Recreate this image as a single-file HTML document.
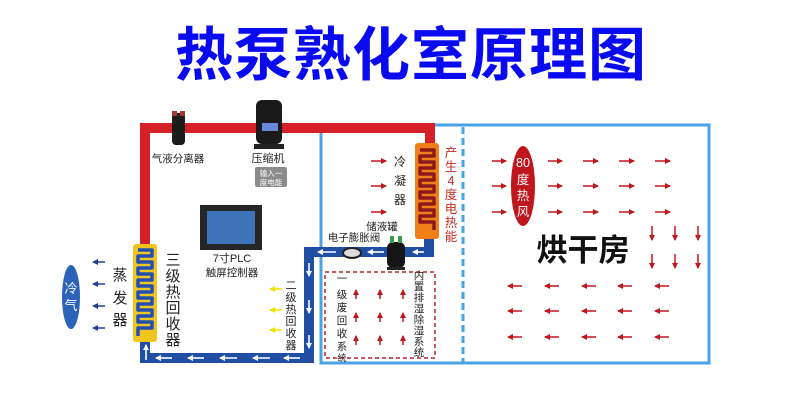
<!DOCTYPE html>
<html><head><meta charset="utf-8"><style>
html,body{margin:0;padding:0;background:#fff;}
svg{display:block;font-family:"Liberation Sans","Noto Sans CJK SC",sans-serif;}
</style></head><body>
<svg width="800" height="400" viewBox="0 0 800 400" xmlns="http://www.w3.org/2000/svg">
<defs>
<marker id="ar" markerWidth="6" markerHeight="6" refX="5" refY="3" orient="auto" markerUnits="userSpaceOnUse"><path d="M0,0 L6,3 L0,6 z" fill="#c0161d"/></marker>
<marker id="ab" markerWidth="6" markerHeight="6" refX="5" refY="3" orient="auto" markerUnits="userSpaceOnUse"><path d="M0,0 L6,3 L0,6 z" fill="#1f3f9a"/></marker>
<marker id="ay" markerWidth="6" markerHeight="6" refX="5" refY="3" orient="auto" markerUnits="userSpaceOnUse"><path d="M0,0 L6,3 L0,6 z" fill="#f2e000"/></marker>
<marker id="aw" markerWidth="6" markerHeight="6" refX="5" refY="3" orient="auto" markerUnits="userSpaceOnUse"><path d="M0,0 L6,3 L0,6 z" fill="#fff"/></marker>
</defs>
<!-- title -->
<text x="411" y="75" font-size="58" font-weight="bold" fill="#0a0af0" text-anchor="middle" letter-spacing="1">热泵熟化室原理图</text>

<!-- light blue room -->
<rect x="321" y="125" width="388" height="238" fill="none" stroke="#4aa3e6" stroke-width="3"/>
<line x1="463" y1="127" x2="463" y2="362" stroke="#4aa3e6" stroke-width="3" stroke-dasharray="7,4"/>
<!-- red dashed box -->
<rect x="325" y="272" width="110" height="86" fill="none" stroke="#b8262b" stroke-width="1.5" stroke-dasharray="4,3"/>

<!-- red pipe -->
<path d="M145,245 L145,128 L430,128 L430,145" fill="none" stroke="#d62027" stroke-width="10"/>
<!-- dark blue pipe -->
<path d="M429,238 L429,252 L309,252 L309,358 L145,358 L145,340" fill="none" stroke="#1f4ea3" stroke-width="10"/>
<!-- white arrows in blue pipe -->
<g stroke="#fff" stroke-width="1.6" marker-end="url(#aw)">
<line x1="424" y1="252" x2="413" y2="252"/>
<line x1="384" y1="252" x2="368" y2="252"/>
<line x1="336" y1="252" x2="318" y2="252"/>
<line x1="309" y1="263" x2="309" y2="276"/>
<line x1="309" y1="300" x2="309" y2="313"/>
<line x1="309" y1="335" x2="309" y2="348"/>
<line x1="300" y1="358" x2="284" y2="358"/>
<line x1="270" y1="358" x2="253" y2="358"/>
<line x1="237" y1="358" x2="220" y2="358"/>
<line x1="204" y1="358" x2="188" y2="358"/>
<line x1="172" y1="358" x2="156" y2="358"/>
<line x1="146" y1="360" x2="146" y2="345"/>
</g>

<!-- condenser -->
<rect x="415" y="143" width="24" height="96" rx="3" fill="#f07f1a"/>
<path d="M420,150 H434 V156 H420 V162 H434 V168 H420 V174 H434 V180 H420 V186 H434 V192 H420 V198 H434 V204 H420 V210 H434 V216 H420 V222 H434 V230" fill="none" stroke="#8b1a1a" stroke-width="3.5" stroke-linejoin="round"/>
<!-- evaporator -->
<rect x="133" y="244" width="24" height="98" rx="3" fill="#f2c51e"/>
<path d="M138,250 H152 V256 H138 V262 H152 V268 H138 V274 H152 V280 H138 V286 H152 V292 H138 V298 H152 V304 H138 V310 H152 V316 H138 V322 H152 V328 H138 V336" fill="none" stroke="#2350b0" stroke-width="3.5" stroke-linejoin="round"/>

<!-- separator -->
<rect x="172" y="113" width="13" height="32" rx="4" fill="#1c1c1c"/>
<rect x="172" y="111" width="5" height="5" fill="#a33"/><rect x="180" y="111" width="5" height="5" fill="#a33"/>
<text x="178" y="162" font-size="10.5" fill="#222" text-anchor="middle">气液分离器</text>
<!-- compressor -->
<rect x="256" y="100" width="26" height="44" rx="6" fill="#1a1a1a"/>
<rect x="262" y="123" width="16" height="8" fill="#6a86d8"/>
<rect x="254" y="144" width="30" height="5" fill="#222"/>
<text x="268" y="162" font-size="11" fill="#222" text-anchor="middle">压缩机</text>
<rect x="255" y="167" width="32" height="20" rx="2" fill="#8c8c8c"/>
<text x="271" y="176" font-size="7.5" fill="#fff" text-anchor="middle">输入一</text>
<text x="271" y="185" font-size="7.5" fill="#fff" text-anchor="middle">度电能</text>

<!-- controller -->
<rect x="200" y="205" width="62" height="45" fill="#262626"/>
<rect x="207" y="211" width="48" height="33" fill="#3d73b8"/>
<text x="232" y="262" font-size="11" fill="#222" text-anchor="middle">7寸PLC</text>
<text x="232" y="276" font-size="10.5" fill="#222" text-anchor="middle">触屏控制器</text>

<!-- evaporator labels -->
<g font-size="15" fill="#222" text-anchor="middle">
<text x="173" y="265">三</text><text x="173" y="281">级</text><text x="173" y="297">热</text><text x="173" y="313">回</text><text x="173" y="329">收</text><text x="173" y="345">器</text>
<text x="120" y="280">蒸</text><text x="120" y="303">发</text><text x="120" y="325">器</text>
</g>
<ellipse cx="71" cy="297" rx="9" ry="32" fill="#2a63b8"/>
<text x="71" y="293" font-size="13" fill="#fff" text-anchor="middle">冷</text>
<text x="71" y="310" font-size="13" fill="#fff" text-anchor="middle">气</text>
<g stroke="#1f3f9a" stroke-width="1.5" marker-end="url(#ab)">
<line x1="105" y1="262" x2="93" y2="262"/><line x1="105" y1="284" x2="93" y2="284"/>
<line x1="105" y1="306" x2="93" y2="306"/><line x1="105" y1="328" x2="93" y2="328"/>
</g>

<!-- 二级热回收器 -->
<g font-size="11" fill="#222" text-anchor="middle">
<text x="291" y="289">二</text><text x="291" y="301">级</text><text x="291" y="313">热</text><text x="291" y="325">回</text><text x="291" y="337">收</text><text x="291" y="349">器</text>
</g>
<g stroke="#f2e000" stroke-width="1.5" marker-end="url(#ay)">
<line x1="282" y1="289" x2="270" y2="289"/><line x1="282" y1="310" x2="270" y2="310"/><line x1="282" y1="330" x2="270" y2="330"/>
</g>

<!-- condenser labels -->
<g font-size="12" fill="#222" text-anchor="middle">
<text x="400" y="166">冷</text><text x="400" y="185">凝</text><text x="400" y="204">器</text>
</g>
<g stroke="#c0161d" stroke-width="1.5" marker-end="url(#ar)">
<line x1="371" y1="161" x2="386" y2="161"/><line x1="371" y1="186" x2="386" y2="186"/><line x1="371" y1="212" x2="386" y2="212"/>
</g>
<g font-size="12.5" fill="#c42a2a" text-anchor="middle">
<text x="451" y="157">产</text><text x="451" y="171">生</text><text x="451" y="185">4</text><text x="451" y="199">度</text><text x="451" y="213">电</text><text x="451" y="227">热</text><text x="451" y="241">能</text>
</g>
<text x="382" y="230" font-size="10.5" fill="#222" text-anchor="middle">储液罐</text>
<text x="354" y="241" font-size="10.5" fill="#222" text-anchor="middle">电子膨胀阀</text>
<ellipse cx="352" cy="253" rx="9" ry="5" fill="#ddd" stroke="#222" stroke-width="2"/>
<rect x="387" y="242" width="18" height="26" rx="6" fill="#151515"/>
<rect x="390" y="236" width="4" height="7" fill="#3c9a4a"/><rect x="398" y="236" width="4" height="7" fill="#3c9a4a"/>
<rect x="387" y="267" width="18" height="3" fill="#222"/>

<!-- red dashed box contents -->
<g font-size="10.5" fill="#222" text-anchor="middle">
<text x="342" y="282">一</text><text x="342" y="298">级</text><text x="342" y="311">废</text><text x="342" y="324">回</text><text x="342" y="337">收</text><text x="342" y="350">系</text><text x="342" y="361" font-size="9">统</text>
<text x="419" y="279">内</text><text x="419" y="290">置</text><text x="419" y="301">排</text><text x="419" y="312">湿</text><text x="419" y="323">除</text><text x="419" y="334">湿</text><text x="419" y="345">系</text><text x="419" y="356">统</text>
</g>
<g stroke="#c0161d" stroke-width="1.5" marker-end="url(#ar)">
<line x1="356" y1="299" x2="356" y2="290"/><line x1="380" y1="299" x2="380" y2="290"/><line x1="403" y1="299" x2="403" y2="290"/>
<line x1="356" y1="322" x2="356" y2="313"/><line x1="380" y1="322" x2="380" y2="313"/><line x1="403" y1="322" x2="403" y2="313"/>
<line x1="356" y1="345" x2="356" y2="336"/><line x1="380" y1="345" x2="380" y2="336"/><line x1="403" y1="345" x2="403" y2="336"/>
</g>

<!-- drying room -->
<ellipse cx="523" cy="186" rx="12" ry="40" fill="#c0161d"/>
<g font-size="12.5" fill="#fff" text-anchor="middle">
<text x="523" y="167">80</text><text x="523" y="184">度</text><text x="523" y="200">热</text><text x="523" y="216">风</text>
</g>
<g stroke="#c0161d" stroke-width="1.5" marker-end="url(#ar)">
<line x1="492" y1="161" x2="506" y2="161"/><line x1="548" y1="161" x2="562" y2="161"/><line x1="583" y1="161" x2="598" y2="161"/><line x1="619" y1="161" x2="634" y2="161"/><line x1="655" y1="161" x2="670" y2="161"/>
<line x1="492" y1="186" x2="506" y2="186"/><line x1="548" y1="186" x2="562" y2="186"/><line x1="583" y1="186" x2="598" y2="186"/><line x1="619" y1="186" x2="634" y2="186"/><line x1="655" y1="186" x2="670" y2="186"/>
<line x1="492" y1="212" x2="506" y2="212"/><line x1="548" y1="212" x2="562" y2="212"/><line x1="583" y1="212" x2="598" y2="212"/><line x1="619" y1="212" x2="634" y2="212"/><line x1="655" y1="212" x2="670" y2="212"/>
<line x1="652" y1="226" x2="652" y2="240"/><line x1="675" y1="226" x2="675" y2="240"/><line x1="698" y1="226" x2="698" y2="240"/>
<line x1="652" y1="254" x2="652" y2="268"/><line x1="675" y1="254" x2="675" y2="268"/><line x1="698" y1="254" x2="698" y2="268"/>
<line x1="522" y1="286" x2="508" y2="286"/><line x1="559" y1="286" x2="545" y2="286"/><line x1="596" y1="286" x2="582" y2="286"/><line x1="632" y1="286" x2="618" y2="286"/><line x1="669" y1="286" x2="655" y2="286"/>
<line x1="522" y1="311" x2="508" y2="311"/><line x1="559" y1="311" x2="545" y2="311"/><line x1="596" y1="311" x2="582" y2="311"/><line x1="632" y1="311" x2="618" y2="311"/><line x1="669" y1="311" x2="655" y2="311"/>
<line x1="522" y1="337" x2="508" y2="337"/><line x1="559" y1="337" x2="545" y2="337"/><line x1="596" y1="337" x2="582" y2="337"/><line x1="632" y1="337" x2="618" y2="337"/><line x1="669" y1="337" x2="655" y2="337"/>
</g>
<text x="583" y="261" font-size="31" font-weight="bold" fill="#111" text-anchor="middle">烘干房</text>
</svg>
</body></html>
